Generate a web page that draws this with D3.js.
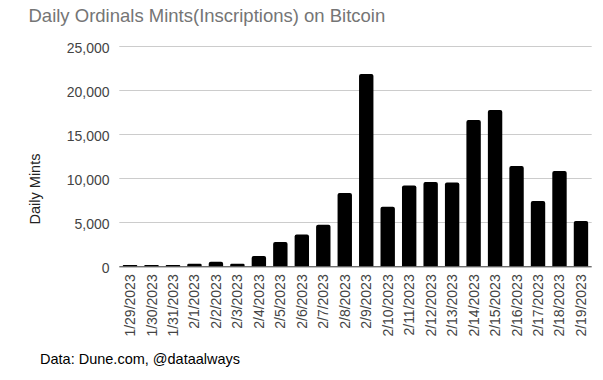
<!DOCTYPE html>
<html><head><meta charset="utf-8">
<script src="https://cdn.jsdelivr.net/npm/d3@7"></script>
<style>body{margin:0;background:#fff;}svg{display:block;font-family:Arial,"Liberation Sans",sans-serif;}</style>
</head><body><svg id="c" width="603" height="380"></svg>
<script>
const categories = ["1/29/2023","1/30/2023","1/31/2023","2/1/2023","2/2/2023","2/3/2023","2/4/2023","2/5/2023","2/6/2023","2/7/2023","2/8/2023","2/9/2023","2/10/2023","2/11/2023","2/12/2023","2/13/2023","2/14/2023","2/15/2023","2/16/2023","2/17/2023","2/18/2023","2/19/2023"];
const mints = [150,150,150,300,520,300,1170,2760,3600,4730,8330,21850,6780,9170,9580,9510,16630,17760,11400,7420,10830,5150];
const yTicks = [0,5000,10000,15000,20000,25000];
const title = "Daily Ordinals Mints(Inscriptions) on Bitcoin";
const yTitle = "Daily Mints";
const source = "Data: Dune.com, @dataalways";

const svg = d3.select("#c");
const L = 119.3, R = 591.7, T = 46.3, B = 266.3;
const x = d3.scaleBand().domain(categories).range([L, R]).paddingInner(0.33).paddingOuter(0.165);
const y = d3.scaleLinear().domain([0, 25000]).range([B, T]);

svg.append("text").attr("x", 28.5).attr("y", 22).attr("font-size", 18.5).attr("fill", "#757575").text(title);

// grid
svg.append("g").selectAll("line").data(yTicks.filter(d => d > 0)).join("line")
  .attr("x1", L).attr("x2", R).attr("y1", d => Math.round(y(d)) + 0.5).attr("y2", d => Math.round(y(d)) + 0.5)
  .attr("stroke", "#cccccc").attr("stroke-width", 1);

// y labels
svg.append("g").selectAll("text").data(yTicks).join("text")
  .attr("x", 109.5).attr("y", d => y(d) + 7).attr("text-anchor", "end")
  .attr("font-size", 14).attr("fill", "#444").text(d => d3.format(",")(d));

// bars with rounded tops
const r = 2;
svg.append("g").selectAll("path").data(mints).join("path")
  .attr("fill", "#000")
  .attr("d", (d, i) => {
    const x0 = x(categories[i]), w = x.bandwidth(), y0 = y(d), h = B - y0;
    const rr = Math.min(r, h / 2, w / 2);
    return `M${x0},${B}V${y0 + rr}Q${x0},${y0} ${x0 + rr},${y0}H${x0 + w - rr}Q${x0 + w},${y0} ${x0 + w},${y0 + rr}V${B}Z`;
  });

// baseline
svg.append("line").attr("x1", L).attr("x2", R).attr("y1", B + 0.5).attr("y2", B + 0.5).attr("stroke", "#333").attr("stroke-width", 1);

// x labels
svg.append("g").selectAll("text").data(categories).join("text")
  .attr("transform", d => `translate(${x(d) + x.bandwidth() / 2 + 5},${B + 8}) rotate(-90)`)
  .attr("text-anchor", "end").attr("font-size", 14).attr("fill", "#444").text(d => d);

// y title
svg.append("text").attr("transform", `translate(40,189) rotate(-90)`).attr("text-anchor", "middle")
  .attr("font-size", 14.5).attr("fill", "#222").text(yTitle);

svg.append("text").attr("x", 40).attr("y", 364).attr("font-size", 14.5).attr("fill", "#000").text(source);
</script></body></html>
